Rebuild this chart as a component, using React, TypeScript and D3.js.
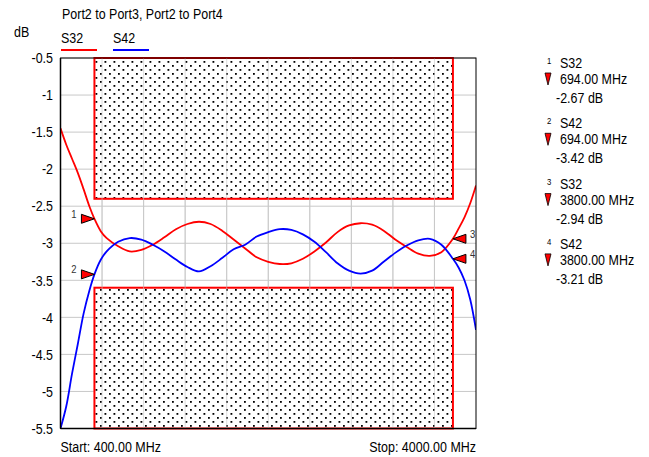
import React from "react";
import * as d3 from "d3";

const freqs = [400, 450, 500, 550, 600, 650, 694, 750, 800, 900, 1000, 1100, 1200, 1300, 1400, 1500, 1600, 1700, 1800, 1900, 2000, 2100, 2200, 2300, 2400, 2500, 2600, 2700, 2800, 2900, 3000, 3100, 3200, 3300, 3400, 3500, 3600, 3700, 3800, 3850, 3900, 3950, 4000];
const s32 = [-1.45, -1.67, -1.86, -2.05, -2.27, -2.5, -2.67, -2.84, -2.93, -3.04, -3.11, -3.09, -3.02, -2.92, -2.81, -2.74, -2.71, -2.74, -2.83, -2.95, -3.07, -3.19, -3.25, -3.28, -3.27, -3.21, -3.11, -2.99, -2.85, -2.76, -2.73, -2.75, -2.83, -2.95, -3.05, -3.14, -3.17, -3.12, -2.94, -2.8, -2.65, -2.46, -2.22];
const s42 = [-5.5, -5.2, -4.76, -4.36, -3.95, -3.64, -3.42, -3.22, -3.11, -2.98, -2.93, -2.95, -3.02, -3.11, -3.22, -3.32, -3.38, -3.31, -3.2, -3.08, -3.02, -2.91, -2.85, -2.81, -2.82, -2.88, -2.98, -3.12, -3.27, -3.37, -3.41, -3.37, -3.25, -3.13, -3.03, -2.96, -2.94, -3.02, -3.21, -3.33, -3.5, -3.76, -4.17];

const yTicks = [-0.5, -1, -1.5, -2, -2.5, -3, -3.5, -4, -4.5, -5, -5.5];
const xGridCount = 10;
const maskFreqs = [694, 3800];
const upperLimit = -2.4;
const lowerLimit = -3.6;

const markerIds = ["1", "2", "3", "4"];
const markerTraces = ["S32", "S42", "S32", "S42"];
const markerFreqs = [694, 694, 3800, 3800];
const markerValues = [-2.67, -3.42, -2.94, -3.21];

const title = "Port2 to Port3, Port2 to Port4";
const traceNames = ["S32", "S42"];
const traceColors = ["#ff0000", "#0000ff"];

const FONT = "'Liberation Sans', Arial, sans-serif";
const SX = 0.86;
const FS = 14.5;

function Txt(props: { x: number; y: number; children: React.ReactNode; size?: number; anchor?: string; dy?: string; fill?: string; sx?: number }) {
  const { x, y, children, size = FS, anchor = "start", dy, fill = "#000", sx = SX } = props;
  return (
    <text transform={`translate(${x},${y}) scale(${sx},1)`} fontSize={size} textAnchor={anchor as any} dy={dy} fill={fill}>
      {children}
    </text>
  );
}

export default function App() {
  const W = 649, H = 457;
  const L = 60.5, R = 476, T = 58, B = 428.5;
  const x = d3.scaleLinear().domain([400, 4000]).range([L, R]);
  const y = d3.scaleLinear().domain([-0.5, -5.5]).range([T, B]);
  const line = d3
    .line<number>()
    .x((_, i) => x(freqs[i]))
    .y((d) => y(d))
    .curve(d3.curveCatmullRom.alpha(0.5));
  const series = [s32, s42];
  const xGrid = d3.range(1, xGridCount).map((i) => 400 + (i * 3600) / xGridCount);

  return (
    <svg width={W} height={H} style={{ position: "absolute", left: 0, top: 0, background: "#fff" }} fontFamily={FONT}>
      <defs>
        <pattern id="dots" width={9} height={8} patternUnits="userSpaceOnUse">
          <rect width={9} height={8} fill="#fff" />
          <rect x={1} y={1} width={1.8} height={1.8} fill="#000" />
          <rect x={5.5} y={5} width={1.8} height={1.8} fill="#000" />
        </pattern>
        <clipPath id="plotclip">
          <rect x={L} y={T} width={R - L} height={B - T} />
        </clipPath>
      </defs>
      <rect width={W} height={H} fill="#fff" />
      <Txt x={62} y={19}>{title}</Txt>
      <Txt x={14} y={37}>dB</Txt>
      {traceNames.map((n, i) => (
        <g key={n}>
          <Txt x={61 + i * 52} y={42.5}>{n}</Txt>
          <line x1={61 + i * 52} x2={97 + i * 52} y1={50} y2={50} stroke={traceColors[i]} strokeWidth={2} />
        </g>
      ))}
      {yTicks.map((t) => (
        <line key={"h" + t} x1={L} x2={R} y1={y(t)} y2={y(t)} stroke="#c8c8c8" strokeWidth={1} />
      ))}
      {xGrid.map((f) => (
        <line key={"v" + f} x1={x(f)} x2={x(f)} y1={T} y2={B} stroke="#c8c8c8" strokeWidth={1} />
      ))}
      <rect x={x(maskFreqs[0])} y={T} width={x(maskFreqs[1]) - x(maskFreqs[0])} height={y(upperLimit) - T} fill="url(#dots)" stroke="#ff0000" strokeWidth={2} />
      <rect x={x(maskFreqs[0])} y={y(lowerLimit)} width={x(maskFreqs[1]) - x(maskFreqs[0])} height={B - y(lowerLimit)} fill="url(#dots)" stroke="#ff0000" strokeWidth={2} />
      {xGrid.map((f) => (
        <line key={"vg" + f} x1={x(f)} x2={x(f)} y1={T} y2={B} stroke="#c8c8c8" strokeWidth={1} opacity={0.6} />
      ))}
      <g clipPath="url(#plotclip)">
        {series.map((s, i) => (
          <path key={i} d={line(s) || ""} fill="none" stroke={traceColors[i]} strokeWidth={1.8} />
        ))}
      </g>
      <rect x={L} y={T} width={R - L} height={B - T} fill="none" stroke="#000" strokeWidth={1} />
      <line x1={L} x2={L} y1={T} y2={B} stroke="#000" strokeWidth={1.5} />
      <line x1={L} x2={R} y1={B} y2={B} stroke="#000" strokeWidth={1.5} />
      {yTicks.map((t) => (
        <Txt key={"yl" + t} x={53} y={y(t)} dy="0.36em" anchor="end">{String(t)}</Txt>
      ))}
      <Txt x={L} y={452}>Start: 400.00 MHz</Txt>
      <Txt x={R} y={452} anchor="end">Stop: 4000.00 MHz</Txt>
      {markerIds.map((id, i) => {
        const mx = x(markerFreqs[i]);
        const my = y(markerValues[i]);
        const left = markerFreqs[i] < 2200;
        const pts = left
          ? `${mx},${my} ${mx - 13},${my - 4.5} ${mx - 13},${my + 4.5}`
          : `${mx},${my} ${mx + 13},${my - 4.5} ${mx + 13},${my + 4.5}`;
        return (
          <g key={"m" + id}>
            <polygon points={pts} fill="#ff0000" stroke="#000" strokeWidth={1} />
            <Txt x={left ? mx - 18 : mx + 17} y={my - 1} size={11} anchor={left ? "end" : "start"} fill="#333">{id}</Txt>
          </g>
        );
      })}
      {markerIds.map((id, i) => {
        const by = 68 + i * 60.3;
        return (
          <g key={"t" + id}>
            <Txt x={547} y={by - 4} size={9}>{id}</Txt>
            <Txt x={560} y={by}>{markerTraces[i]}</Txt>
            <polygon points={`${545},${by + 5} ${551},${by + 5} ${548},${by + 17}`} fill="#ff0000" stroke="#000" strokeWidth={0.8} />
            <Txt x={560} y={by + 16}>{markerFreqs[i].toFixed(2)} MHz</Txt>
            <Txt x={556} y={by + 35}>{markerValues[i].toFixed(2)} dB</Txt>
          </g>
        );
      })}
    </svg>
  );
}
